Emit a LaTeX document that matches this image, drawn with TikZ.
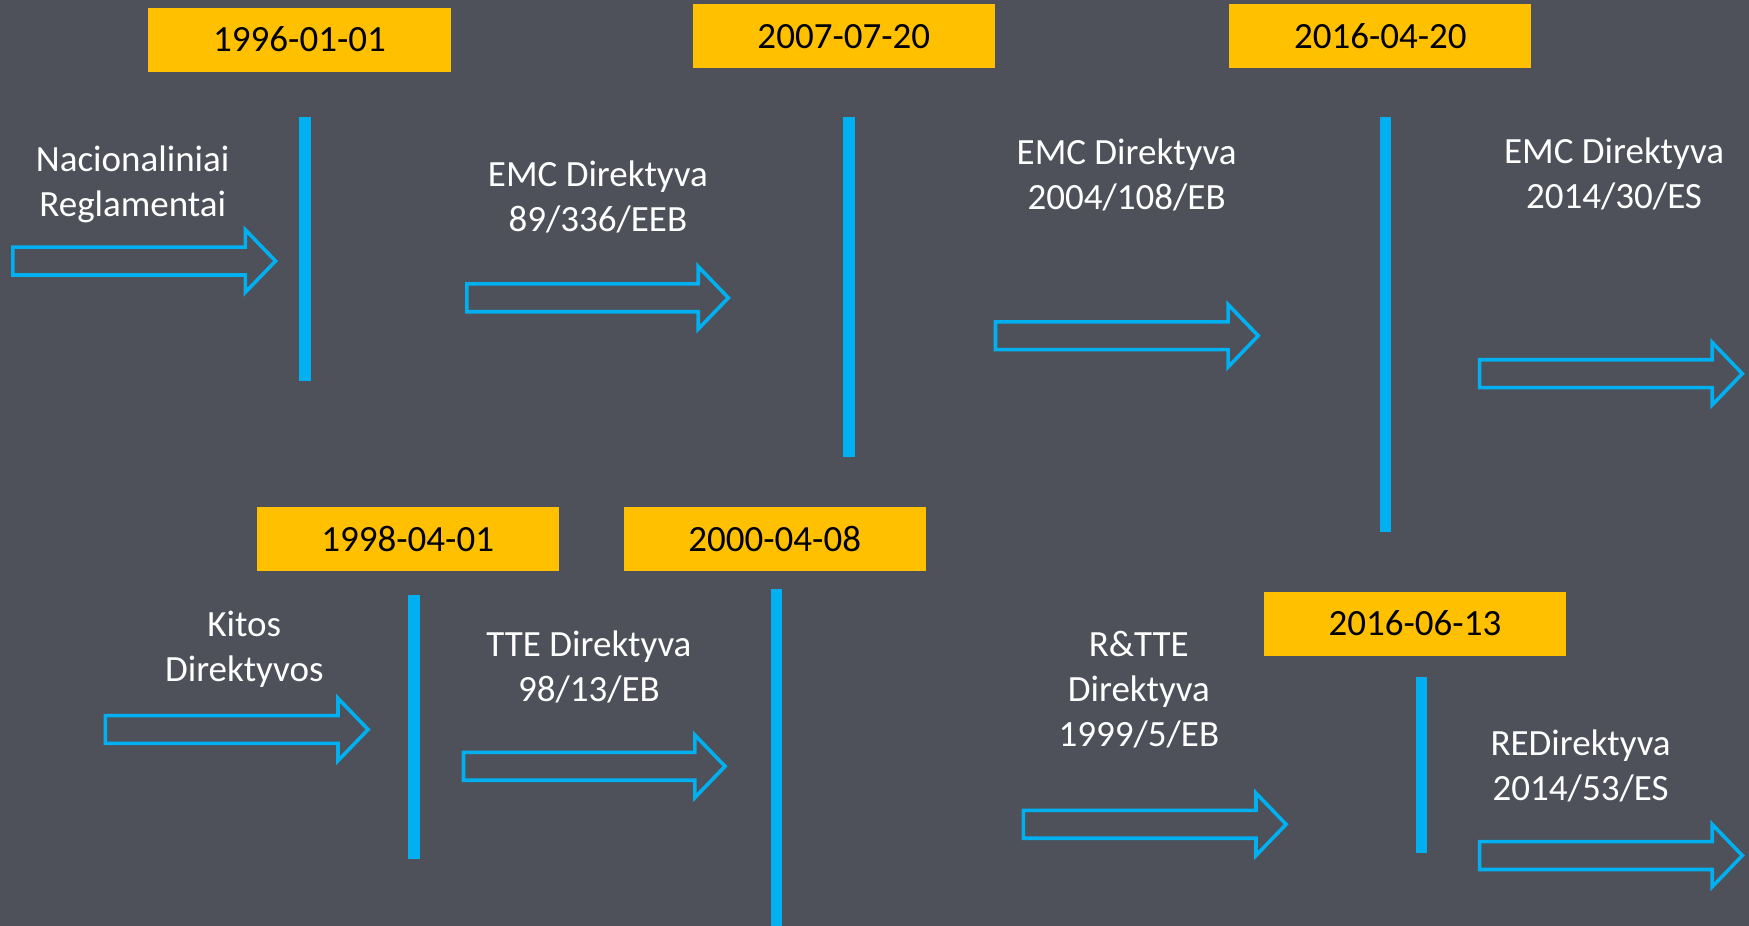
\documentclass[tikz,border=0pt]{standalone}
\usepackage{fontspec}
\setmainfont{Carlito}
\definecolor{bg}{RGB}{78,81,90}
\definecolor{gold}{RGB}{255,192,0}
\definecolor{sky}{RGB}{0,176,240}
\tikzset{
  datebox/.style={fill=gold, minimum width=302pt, minimum height=64pt, inner sep=0pt, font=\fontsize{37}{45}\selectfont, text=black},
  lbl/.style={text=white, align=center, font=\fontsize{37}{45}\selectfont, inner sep=0pt},
  vline/.style={draw=sky, line width=11.5pt},
  blockarrow/.style={draw=sky, line width=3.6pt, line join=miter},
}
\newcommand\blockarr[3]{% x1, x2, yc (outer extents)
  \draw[blockarrow] (#1+1.5,#3-12.5) -- (#2-29,#3-12.5) -- (#2-29,#3-28) -- (#2-2,#3) -- (#2-29,#3+28) -- (#2-29,#3+12.5) -- (#1+1.5,#3+12.5) -- cycle;}
\begin{document}
\begin{tikzpicture}[x=1.1154pt, y=-1.1154pt]
  \fill[bg] (0,0) rectangle (1568,830);
  \useasboundingbox (0,0) rectangle (1568,830);
  % date boxes
  \node[datebox] (d1) at (268.5,35.5) {1996-01-01};
  \node[datebox] (d2) at (756.5,32.5) {2007-07-20};
  \node[datebox] (d3) at (1237.5,32.5) {2016-04-20};
  \node[datebox] (d4) at (365.5,483.5) {1998-04-01};
  \node[datebox] (d5) at (694.5,483.5) {2000-04-08};
  \node[datebox] (d6) at (1268.5,559) {2016-06-13};
  % vertical lines
  \draw[vline] (273.5,105) -- (273.5,342);
  \draw[vline] (761,105) -- (761,410);
  \draw[vline] (1242,105) -- (1242,477);
  \draw[vline] (371,533) -- (371,770);
  \draw[vline] (696,528) -- (696,830);
  \draw[vline] (1274.5,607) -- (1274.5,765);
  % arrows
  \blockarr{10}{249}{234}
  \blockarr{417}{655}{267}
  \blockarr{891}{1130}{301}
  \blockarr{1325}{1564}{335}
  \blockarr{93}{332}{654}
  \blockarr{414}{652}{687}
  \blockarr{916}{1155}{739}
  \blockarr{1325}{1564}{767}
  % labels
  \node[lbl] (l1) at (119,165) {Nacionaliniai\\Reglamentai};
  \node[lbl] (l2) at (536,176.5) {EMC Direktyva\\89/336/EEB};
  \node[lbl] (l3) at (1010,157) {EMC Direktyva\\2004/108/EB};
  \node[lbl] (l4) at (1447,156) {EMC Direktyva\\2014/30/ES};
  \node[lbl] (l5) at (219,582) {Kitos\\Direktyvos};
  \node[lbl] (l6) at (528,598) {TTE Direktyva\\98/13/EB};
  \node[lbl] (l7) at (1021,618) {R\&TTE\\Direktyva\\1999/5/EB};
  \node[lbl] (l8) at (1417,687) {REDirektyva\\2014/53/ES};
\end{tikzpicture}
\end{document}
